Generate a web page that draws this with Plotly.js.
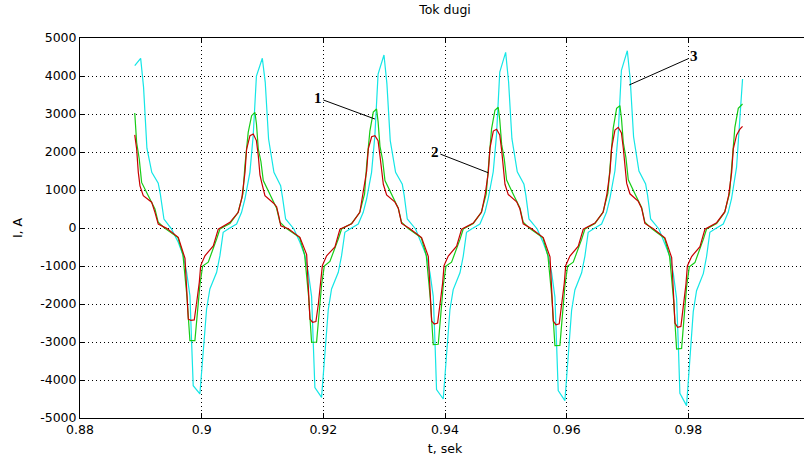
<!DOCTYPE html>
<html>
<head>
<meta charset="utf-8">
<script src="https://cdn.plot.ly/plotly-3.0.1.min.js"></script>
<style>
html,body{margin:0;padding:0;overflow:hidden;background:#fff;}
#chart{width:815px;height:459px;}
</style>
</head>
<body>
<div id="chart"></div>
<script>
// ---- Data (time in seconds, current in A) ----
const redT = [
0.88900,0.88931,0.88958,0.88986,0.89040,0.89178,0.89232,0.89286,0.89424,0.89615,0.89726,0.89753,0.89780,0.89824,0.89878,0.89918,0.89961,0.89984,0.90054,0.90191,0.90273,0.90465,0.90601,0.90662,0.90712,0.90739,0.90794,0.90848,
0.90900,0.90931,0.90958,0.90986,0.91040,0.91178,0.91232,0.91270,0.91300,0.91424,0.91615,0.91726,0.91753,0.91780,0.91824,0.91878,0.91918,0.91961,0.91984,0.92054,0.92191,0.92273,0.92465,0.92601,0.92662,0.92712,0.92739,0.92794,0.92848,
0.92900,0.92931,0.92958,0.92986,0.93040,0.93178,0.93232,0.93286,0.93424,0.93615,0.93726,0.93753,0.93780,0.93824,0.93878,0.93918,0.93961,0.93984,0.94054,0.94191,0.94273,0.94465,0.94601,0.94662,0.94712,0.94739,0.94794,0.94848,
0.94900,0.94931,0.94958,0.94986,0.95040,0.95178,0.95232,0.95286,0.95424,0.95615,0.95726,0.95753,0.95780,0.95824,0.95878,0.95918,0.95961,0.95984,0.96054,0.96191,0.96273,0.96465,0.96601,0.96662,0.96712,0.96739,0.96794,0.96848,
0.96900,0.96931,0.96958,0.96986,0.97040,0.97178,0.97232,0.97286,0.97424,0.97615,0.97726,0.97753,0.97780,0.97824,0.97878,0.97918,0.97961,0.97984,0.98054,0.98191,0.98273,0.98465,0.98601,0.98662,0.98712,0.98739,0.98794,0.98848,0.98891];
const redI = [
2450,2080,1470,1110,850,680,410,105,-10,-245,-800,-1700,-2400,-2430,-2420,-1960,-1430,-990,-730,-470,-30,150,413,800,1465,2079,2429,2474,
2300,1900,1400,1200,850,660,560,300,60,-20,-245,-700,-1650,-2400,-2480,-2460,-2000,-1400,-990,-730,-500,-30,110,420,1000,1500,2080,2400,2430,
2300,1900,1450,1150,870,680,520,120,-20,-250,-750,-1700,-2450,-2526,-2500,-2000,-1450,-990,-740,-480,-30,130,420,900,1465,2100,2550,2600,
2450,2050,1500,1150,880,690,500,110,-20,-250,-760,-1700,-2450,-2545,-2520,-2000,-1450,-990,-740,-480,-30,130,420,900,1480,2100,2580,2650,
2500,2100,1550,1180,900,700,520,120,-20,-260,-780,-1750,-2500,-2613,-2590,-2050,-1480,-1000,-750,-490,-30,140,430,850,1465,2080,2450,2600,2676];

const greenT = [
0.88900,0.88931,0.88974,0.89013,0.89122,0.89232,0.89286,0.89396,0.89610,0.89692,0.89758,0.89791,0.89807,0.89889,0.89922,0.89971,0.90016,0.90108,0.90246,0.90300,0.90465,0.90596,0.90678,0.90711,0.90765,0.90821,0.90875,
0.90900,0.90931,0.90974,0.91013,0.91122,0.91232,0.91286,0.91396,0.91610,0.91692,0.91758,0.91791,0.91807,0.91889,0.91922,0.91971,0.92016,0.92108,0.92246,0.92300,0.92465,0.92596,0.92678,0.92711,0.92765,0.92821,0.92875,
0.92900,0.92931,0.92974,0.93013,0.93122,0.93232,0.93286,0.93396,0.93610,0.93692,0.93758,0.93791,0.93807,0.93889,0.93922,0.93971,0.94016,0.94108,0.94246,0.94300,0.94465,0.94596,0.94678,0.94711,0.94765,0.94821,0.94875,
0.94900,0.94931,0.94974,0.95013,0.95122,0.95232,0.95286,0.95396,0.95610,0.95692,0.95758,0.95791,0.95807,0.95889,0.95922,0.95971,0.96016,0.96108,0.96246,0.96300,0.96465,0.96596,0.96678,0.96711,0.96765,0.96821,0.96875,
0.96900,0.96931,0.96974,0.97013,0.97122,0.97232,0.97286,0.97396,0.97610,0.97692,0.97758,0.97791,0.97807,0.97889,0.97922,0.97971,0.98016,0.98108,0.98246,0.98300,0.98465,0.98596,0.98678,0.98711,0.98765,0.98821,0.98891];
const greenI = [
3026,2250,1816,1200,850,500,150,-10,-250,-700,-1800,-2700,-2965,-2965,-2400,-1500,-1000,-900,-290,-26,120,400,900,1640,2518,2956,3044,
2750,2079,1750,1250,880,520,150,-15,-250,-700,-1800,-2750,-3009,-3000,-2400,-1500,-1000,-880,-290,-26,120,400,900,1640,2550,3050,3131,
2800,2150,1800,1250,880,520,150,-15,-260,-720,-1850,-2800,-3070,-3060,-2450,-1520,-1000,-900,-300,-26,120,410,900,1650,2600,3100,3176,
2850,2200,1820,1260,890,530,150,-15,-260,-730,-1850,-2820,-3096,-3090,-2450,-1520,-1000,-900,-300,-26,120,410,920,1660,2620,3150,3219,
2900,2250,1850,1270,900,540,150,-15,-270,-750,-1900,-2900,-3184,-3170,-2500,-1550,-1020,-910,-300,-26,120,410,920,1660,2650,3150,3263];

const cyanT = [
0.88900,0.88997,0.89045,0.89100,0.89180,0.89286,0.89320,0.89380,0.89500,0.89615,0.89697,0.89753,0.89807,0.89835,0.89861,0.89971,0.90026,0.90081,0.90135,0.90246,0.90300,0.90354,0.90436,0.90574,0.90656,0.90711,0.90793,0.90847,
0.90900,0.90997,0.91045,0.91100,0.91188,0.91298,0.91330,0.91380,0.91516,0.91615,0.91697,0.91753,0.91807,0.91835,0.91861,0.91971,0.92026,0.92081,0.92135,0.92246,0.92300,0.92354,0.92436,0.92574,0.92656,0.92711,0.92793,0.92847,
0.92900,0.92997,0.93045,0.93100,0.93188,0.93298,0.93330,0.93380,0.93516,0.93615,0.93697,0.93753,0.93807,0.93835,0.93861,0.93971,0.94026,0.94081,0.94135,0.94246,0.94300,0.94354,0.94436,0.94574,0.94656,0.94711,0.94793,0.94847,
0.94900,0.94997,0.95045,0.95100,0.95188,0.95298,0.95330,0.95380,0.95516,0.95615,0.95697,0.95753,0.95807,0.95835,0.95861,0.95971,0.96026,0.96081,0.96135,0.96246,0.96300,0.96354,0.96436,0.96574,0.96656,0.96711,0.96793,0.96847,
0.96900,0.96997,0.97045,0.97100,0.97188,0.97298,0.97330,0.97380,0.97516,0.97615,0.97697,0.97753,0.97807,0.97835,0.97861,0.97971,0.98026,0.98081,0.98135,0.98246,0.98300,0.98354,0.98436,0.98574,0.98656,0.98711,0.98793,0.98847,0.98891];
const cyanI = [
4271,4466,3700,2100,1465,1180,900,237,-15,-377,-729,-1166,-1781,-2921,-4150,-4368,-3184,-2132,-1605,-1166,-729,-113,-26,105,413,763,1465,2429,
4000,4466,3834,2342,1465,1113,800,237,-26,-377,-729,-1166,-1800,-2950,-4200,-4456,-3200,-2150,-1605,-1166,-729,-113,-26,105,413,763,1465,2429,
4050,4553,3800,2300,1465,1150,850,237,-26,-390,-740,-1180,-1800,-2980,-4250,-4500,-3220,-2150,-1620,-1180,-740,-113,-26,105,413,780,1480,2450,
4100,4623,3850,2350,1480,1150,850,240,-26,-390,-740,-1180,-1820,-3000,-4280,-4544,-3250,-2170,-1630,-1180,-740,-113,-26,105,413,780,1500,2480,
4150,4666,3900,2400,1500,1160,860,240,-26,-400,-750,-1200,-1850,-3050,-4350,-4675,-3300,-2200,-1650,-1200,-750,-113,-26,105,413,780,1600,3000,3921];

// ---- Tick labels ----
const xTickVals = [0.88,0.90,0.92,0.94,0.96,0.98];
const xTickText = ["0.88","0.9","0.92","0.94","0.96","0.98"];
const yTickVals = [-5000,-4000,-3000,-2000,-1000,0,1000,2000,3000,4000,5000];
const yTickText = ["-5000","-4000","-3000","-2000","-1000","0","1000","2000","3000","4000","5000"];

// ---- Curve labels: [text, label t, label I, pointed t, pointed I] ----
const curveLabels = ["1","2","3"];
const labelT = [0.91911,0.93834,0.98090];
const labelI = [3421,2000,4520];
const pointT = [0.92848,0.94710,0.97027];
const pointI = [2868,1455,3763];

const traces = [
  {x: cyanT, y: cyanI, mode:'lines', line:{color:'#14e6e6', width:1.2}, name:'3'},
  {x: greenT, y: greenI, mode:'lines', line:{color:'#16cc16', width:1.2}, name:'1'},
  {x: redT, y: redI, mode:'lines', line:{color:'#c80000', width:1.2}, name:'2'}
];

const annotations = curveLabels.map((t,i)=>({
  x: pointT[i], y: pointI[i], xref:'x', yref:'y',
  ax: labelT[i], ay: labelI[i], axref:'x', ayref:'y',
  text: '<b>'+t+'</b>', showarrow:true, arrowhead:0, arrowwidth:1, arrowcolor:'#000',
  font:{family:'Liberation Serif, Times New Roman, serif', size:15, color:'#000'}
}));

const FONT = 'DejaVu Sans, Liberation Sans, Arial, sans-serif';

const axisCommon = {
  showline:true, linecolor:'#000', linewidth:1, mirror:'ticks',
  ticks:'inside', ticklen:5, tickcolor:'#000',
  showgrid:true, gridcolor:'#000', gridwidth:1, griddash:'1px,3px',
  zeroline:false,
  tickfont:{family:FONT, size:12.5, color:'#000'}
};

const layout = {
  width:815, height:459,
  margin:{l:80, r:5, t:38, b:41},
  paper_bgcolor:'#fff', plot_bgcolor:'#fff',
  showlegend:false,
  title:{text:'Tok dugi', x:0.5, xref:'paper', xanchor:'center', y:0.979, yref:'container', yanchor:'middle',
         font:{family:FONT, size:12.5, color:'#000'}},
  xaxis: Object.assign({}, axisCommon, {
    range:[0.88,1.0], tickmode:'array', tickvals:xTickVals, ticktext:xTickText,
    title:{text:'t, sek', standoff:8, font:{family:FONT, size:12.5, color:'#000'}}
  }),
  yaxis: Object.assign({}, axisCommon, {
    range:[-5000,5000], tickmode:'array', tickvals:yTickVals, ticktext:yTickText,
    title:{text:'I, A', standoff:14, font:{family:FONT, size:12.5, color:'#000'}}
  }),
  annotations: annotations
};

Plotly.newPlot('chart', traces, layout, {displayModeBar:false, staticPlot:true});
</script>
</body>
</html>
